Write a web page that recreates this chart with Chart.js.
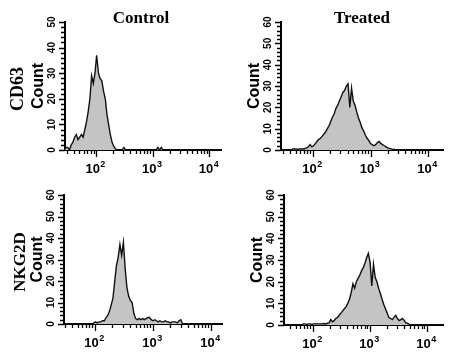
<!DOCTYPE html>
<html>
<head>
<meta charset="utf-8">
<script src="https://cdn.jsdelivr.net/npm/chart.js@4"></script>
<style>
  html, body { margin: 0; padding: 0; background: #fff; }
  #wrap { position: relative; width: 450px; height: 361px; overflow: hidden; }
  #wrap canvas { position: absolute; }
  .lbl { position: absolute; font-family: 'Liberation Serif', 'Times New Roman', serif; font-weight: bold; color: #000; white-space: nowrap; line-height: 1; }
  .ctr { transform: translate(-50%, -50%); }
  .rot { transform: translate(-50%, -50%) rotate(-90deg); }
</style>
</head>
<body>
<div id="wrap">
  <canvas id="p1" width="225" height="180" style="left:0;top:0"></canvas>
  <canvas id="p2" width="225" height="180" style="left:225px;top:0"></canvas>
  <canvas id="p3" width="225" height="181" style="left:0;top:180px"></canvas>
  <canvas id="p4" width="225" height="181" style="left:225px;top:180px"></canvas>
  <div class="lbl ctr" style="left:141px;top:17px;font-size:17px">Control</div>
  <div class="lbl ctr" style="left:362px;top:17px;font-size:17px">Treated</div>
  <div class="lbl rot" style="left:17px;top:89px;font-size:18px">CD63</div>
  <div class="lbl rot" style="left:19px;top:262px;font-size:17px">NKG2D</div>
</div>
<script>
// fluorescence channels (log spaced bins), shared by all four histograms
const channels = [
  27.5, 29.5, 31.6, 33.9, 36.3, 38.9, 41.7, 44.7, 47.9, 51.3,
  55.0, 58.9, 63.1, 67.6, 72.4, 77.6, 83.2, 89.1, 95.5, 102,
  110, 117, 126, 135, 145, 155, 166, 178, 191, 204,
  219, 234, 251, 269, 288, 309, 331, 355, 380, 407,
  437, 468, 501, 537, 575, 617, 661, 708, 759, 813,
  871, 933, 1000, 1072, 1148, 1230, 1318, 1413, 1514, 1622,
  1738, 1862, 1995, 2138, 2291, 2455, 2630, 2818, 3020, 3236,
  3467, 3715, 3981, 4266, 4571, 4898, 5248, 5623, 6026, 6457,
  6918, 7413, 7943, 8511, 9120, 9772, 10471, 11220, 12023, 12882,
  13804, 14791, 15849
];

const cd63Control = [
  0, 1, 1, 0, 2, 3, 5, 6, 4, 5,
  6, 5, 8, 11, 15, 20, 29, 26, 30, 37,
  30, 28, 27, 23, 20, 14, 10, 6, 3, 1.5,
  0.5, 0, 0, 0, 0, 1, 0, 0, 0, 0,
  0, 0, 0, 0, 0, 0, 0, 0, 0, 0,
  0, 0, 0, 0, 0, 1, 0, 1, 0, 0,
  0, 0, 0, 0, 0, 0, 0, 0, 0, 0,
  0, 0, 0, 0, 0, 0, 0, 0, 0, 0,
  0, 0, 0, 0, 0, 0, 0, 0, 0, 0,
  0, 0, 0
];

const cd63Treated = [
  0, 0, 0, 0, 0, 0, 0, 0.5, 0.5, 0.5,
  0.3, 0.5, 0.5, 0.5, 0.7, 1, 1.5, 2.5, 1.5, 2,
  3, 4, 5, 5.5, 6.5, 7.5, 8.5, 10, 11.5, 13.5,
  15.5, 17, 19.5, 21, 23, 25, 27, 28, 30, 31,
  20, 29, 23, 21, 18, 15, 13, 10.5, 9, 7,
  5.5, 4.5, 3, 2.5, 2, 2.5, 3.5, 4, 3, 2.5,
  2, 1.5, 1, 0.7, 0.5, 0.3, 0.3, 0, 0, 0,
  0, 0, 0, 0, 0, 0, 0, 0, 0, 0,
  0, 0, 0, 0, 0, 0, 0, 0, 0, 0,
  0, 0, 0
];

const nkg2dControl = [
  0, 0, 0, 0, 0, 0, 0, 0, 0, 0,
  0, 0, 0, 0, 0, 0, 0, 0, 0.5, 1,
  0.5, 1, 1, 1.5, 1.5, 3, 4, 6, 9, 12,
  20, 27, 31, 37, 32, 38, 26, 17, 13, 11,
  10, 5, 2.5, 2, 2.5, 2, 2.5, 2, 2.5, 3,
  3, 2, 1.5, 2, 1.5, 1, 1.5, 1, 1, 1.5,
  1, 1, 0.5, 1, 1, 1, 0.5, 1.5, 2, 0,
  0, 0, 0, 0, 0, 0, 0, 0, 0, 0,
  0, 0, 0, 0, 0, 0, 0, 0, 0, 0,
  0, 0, 0
];

const nkg2dTreated = [
  0, 0, 0, 0, 0, 0, 0, 0, 0, 0,
  0, 0, 0, 0.5, 0.5, 0.3, 0.5, 0.5, 0.3, 0.5,
  0.5, 0.5, 0.5, 0.5, 0.5, 0.7, 0.5, 0.8, 1, 2.5,
  1.5, 2, 3, 3.5, 4.5, 5.5, 6.5, 7.5, 8.5, 10,
  12, 15, 19, 17, 20, 21.5, 23, 25, 26.5, 28.5,
  31, 33, 29, 18, 28, 22, 20, 17, 14.5, 12,
  9.5, 7.5, 5.5, 3.5, 3, 2.5, 3.5, 4.5, 3, 2,
  2.5, 3, 2, 1, 0.7, 0.3, 0, 0, 0, 0,
  0, 0, 0, 0, 0, 0, 0, 0, 0, 0,
  0, 0, 0
];

const xTickValues = [
  30, 40, 50, 60, 70, 80, 90,
  100, 200, 300, 400, 500, 600, 700, 800, 900,
  1000, 2000, 3000, 4000, 5000, 6000, 7000, 8000, 9000,
  10000
];
// decade labels: base and exponent
const xTickExponents = { 100: '2', 1000: '3', 10000: '4' };
const yAxisTitle = 'Count';

// panel layout (pixels inside each canvas)
const panels = [
  { id: 'p1', counts: cd63Control, yMax: 50, axisX: 65, right: 221, top: 22, bottom: 150, xMin: 28.2, xMax: 16000 },
  { id: 'p2', counts: cd63Treated, yMax: 60, axisX: 56, right: 218, top: 22, bottom: 150, xMin: 27.8, xMax: 18200 },
  { id: 'p3', counts: nkg2dControl, yMax: 60, axisX: 64, right: 222, top: 15, bottom: 144, xMin: 29.2, xMax: 15500 },
  { id: 'p4', counts: nkg2dTreated, yMax: 60, axisX: 59, right: 218, top: 15, bottom: 145, xMin: 31, xMax: 19000 }
];

const SANS = "'Liberation Sans', Arial, sans-serif";
Chart.defaults.font.family = SANS;
Chart.defaults.font.weight = 'bold';
Chart.defaults.color = '#000';

// draws the short/long tick marks and the 10^n labels
const tickMarks = {
  id: 'tickMarks',
  afterDraw(chart) {
    const { ctx, chartArea, scales } = chart;
    ctx.save();
    ctx.strokeStyle = '#000';
    ctx.lineWidth = 1.3;
    ctx.beginPath();
    scales.x.ticks.forEach(t => {
      const px = Math.round(scales.x.getPixelForValue(t.value)) + 0.5;
      const len = xTickExponents[t.value] ? 7 : 4;
      ctx.moveTo(px, chartArea.bottom);
      ctx.lineTo(px, chartArea.bottom + len);
    });
    scales.y.ticks.forEach(t => {
      const py = Math.round(scales.y.getPixelForValue(t.value)) + 0.5;
      const len = t.value % 10 === 0 ? 6 : 4;
      ctx.moveTo(chartArea.left, py);
      ctx.lineTo(chartArea.left - len, py);
    });
    ctx.stroke();

    // decade labels with a real superscript
    ctx.fillStyle = '#000';
    ctx.textBaseline = 'alphabetic';
    ctx.textAlign = 'left';
    scales.x.ticks.forEach(t => {
      const exp = xTickExponents[t.value];
      if (!exp) return;
      const px = scales.x.getPixelForValue(t.value);
      ctx.font = 'bold 13px ' + SANS;
      const wBase = ctx.measureText('10').width;
      ctx.font = 'bold 9px ' + SANS;
      const wExp = ctx.measureText(exp).width;
      const x0 = px - (wBase + wExp) / 2 - 1;
      const base = chartArea.bottom + 23;
      ctx.font = 'bold 13px ' + SANS;
      ctx.fillText('10', x0, base);
      ctx.font = 'bold 9px ' + SANS;
      ctx.fillText(exp, x0 + wBase + 0.5, base - 6);
    });
    ctx.restore();
  }
};

function drawPanel(p) {
  const canvas = document.getElementById(p.id);
  const points = channels.map((c, i) => ({ x: c, y: p.counts[i] }));

  new Chart(canvas, {
    type: 'line',
    data: {
      datasets: [{
        data: points,
        fill: 'origin',
        backgroundColor: '#c4c4c4',
        borderColor: '#111',
        borderWidth: 1.4,
        pointRadius: 0,
        tension: 0
      }]
    },
    options: {
      responsive: false,
      animation: false,
      events: [],
      layout: { padding: { left: 0, top: p.top, right: canvas.width - p.right, bottom: 0 } },
      plugins: { legend: { display: false }, tooltip: { enabled: false } },
      scales: {
        x: {
          type: 'logarithmic',
          min: p.xMin,
          max: p.xMax,
          afterBuildTicks: s => {
            s.ticks = xTickValues.filter(v => v >= p.xMin && v <= p.xMax).map(v => ({ value: v }));
          },
          afterFit: s => { s.height = canvas.height - p.bottom; },
          ticks: { display: false, autoSkip: false, maxRotation: 0 },
          grid: { display: false, drawTicks: false },
          border: { display: true, color: '#000', width: 2 }
        },
        y: {
          min: 0,
          max: p.yMax,
          ticks: {
            stepSize: 2,
            autoSkip: false,
            minRotation: 90,
            maxRotation: 90,
            crossAlign: 'center',
            padding: 7,
            font: { size: 10, weight: 'bold' },
            callback: v => (v % 10 === 0 ? String(v) : '')
          },
          afterFit: s => { s.width = p.axisX; },
          title: {
            display: true,
            text: yAxisTitle,
            font: { size: 16, weight: 'bold' },
            padding: { top: p.axisX - 36, bottom: 0 }
          },
          grid: { display: false, drawTicks: false },
          border: { display: true, color: '#000', width: 2 }
        }
      }
    },
    plugins: [tickMarks]
  });
}

panels.forEach(drawPanel);
</script>
</body>
</html>
